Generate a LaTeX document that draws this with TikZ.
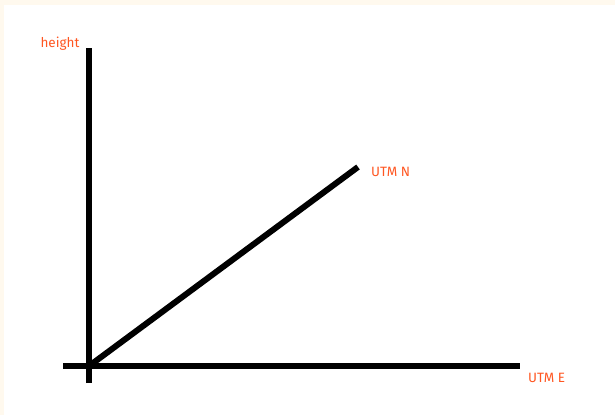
\documentclass[tikz,border=0pt]{standalone}
\usepackage{fontspec}
\setmainfont{Fira Sans}
\definecolor{cream}{HTML}{FFF9EE}
\definecolor{lbl}{HTML}{FF5722}
\begin{document}
\begin{tikzpicture}[x=1pt,y=1pt,
  axis/.style={line width=6pt,black},
  lab/.style={text=lbl,font=\fontsize{13.5}{16}\selectfont,inner sep=0pt}]
\useasboundingbox (0,0) rectangle (615,415);
\fill[cream] (0,0) rectangle (615,415);
\fill[white] (4,0) rectangle (615,410);
\coordinate (vtop) at (89,367);
\coordinate (vbot) at (89,32);
\coordinate (hl) at (63,49);
\coordinate (hr) at (520,49);
\coordinate (o) at (89,49);
\coordinate (n) at (358,248);
\draw[axis] (vbot) -- (vtop);
\draw[axis] (hl) -- (hr);
\draw[axis] (o) -- (n);
\node[lab,anchor=base] (h) at (60,367) {height};
\node[lab,anchor=base west] (un) at (371,238) {UTM N};
\node[lab,anchor=base west] (ue) at (528,33) {UTM E};
\end{tikzpicture}
\end{document}
